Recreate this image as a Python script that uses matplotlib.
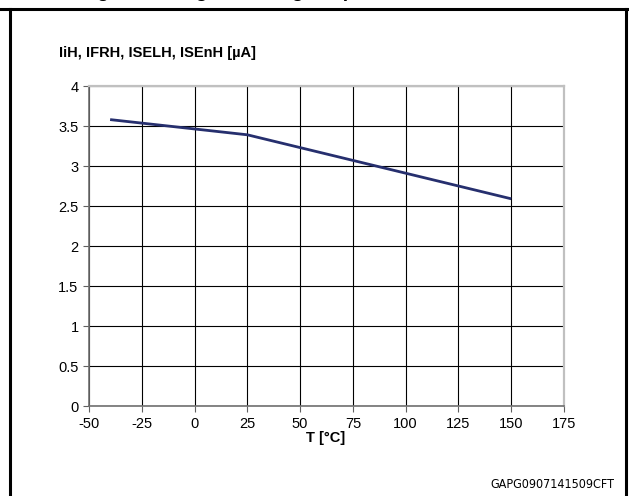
import matplotlib
matplotlib.use("Agg")
import matplotlib.pyplot as plt
from matplotlib.lines import Line2D

plt.rcParams['font.family'] = ['Liberation Sans', 'DejaVu Sans']
plt.rcParams['axes.unicode_minus'] = False

# data
temp = [-40, 25, 150]
current = [3.58, 3.39, 2.59]
xticks = [-50, -25, 0, 25, 50, 75, 100, 125, 150, 175]
yticks = [0, 0.5, 1, 1.5, 2, 2.5, 3, 3.5, 4]
ytick_labels = ['0', '0.5', '1', '1.5', '2', '2.5', '3', '3.5', '4']

fig = plt.figure(figsize=(6.29, 4.96), dpi=100)
ax = fig.add_axes([89/629, 1 - 406/496, 475/629, 320/496])

ax.plot(temp, current, color='#262f6e', lw=2.0, solid_capstyle='butt', zorder=3)

ax.set_xlim(-50, 175)
ax.set_ylim(0, 4)
ax.set_xticks(xticks)
ax.set_yticks(yticks)
ax.set_yticklabels(ytick_labels)
ax.grid(True, color='black', lw=0.8)
ax.tick_params(axis='both', labelsize=10.5, length=4, width=0.8, color='#606060')
ax.tick_params(axis='x', pad=4)

for s in ['top', 'right']:
    ax.spines[s].set_color('#c0c0c0')
    ax.spines[s].set_linewidth(1.6)
for s in ['left', 'bottom']:
    ax.spines[s].set_color('#707070')
    ax.spines[s].set_linewidth(1.2)

fig.text(59/629, 1 - 53/496, 'IiH, IFRH, ISELH, ISEnH [µA]', fontsize=10.5,
         fontweight='bold', va='center', ha='left')
fig.text(326/629, 1 - 438/496, 'T [°C]', fontsize=10.5, fontweight='bold',
         va='center', ha='center')
fig.text(614/629, 1 - 484/496, 'GAPG0907141509CFT', fontsize=9,
         va='center', ha='right', family=['DejaVu Sans'], fontstretch='condensed')

# title, only its descenders show on the cut page
fig.text(80/629, 1 + 2.5/496, 'Figure 11. High-level logic input current', fontsize=14,
         fontweight='bold', va='baseline', ha='left')

# page frame
fig.add_artist(Line2D([10/629, 10/629], [0, 1 - 9/496], color='black', lw=2.2,
                      transform=fig.transFigure))
fig.add_artist(Line2D([626/629, 626/629], [0, 1 - 9/496], color='black', lw=2.2,
                      transform=fig.transFigure))
fig.add_artist(Line2D([0, 1], [1 - 9/496, 1 - 9/496], color='black', lw=2.2,
                      transform=fig.transFigure))

plt.savefig('out.png', dpi=100)
